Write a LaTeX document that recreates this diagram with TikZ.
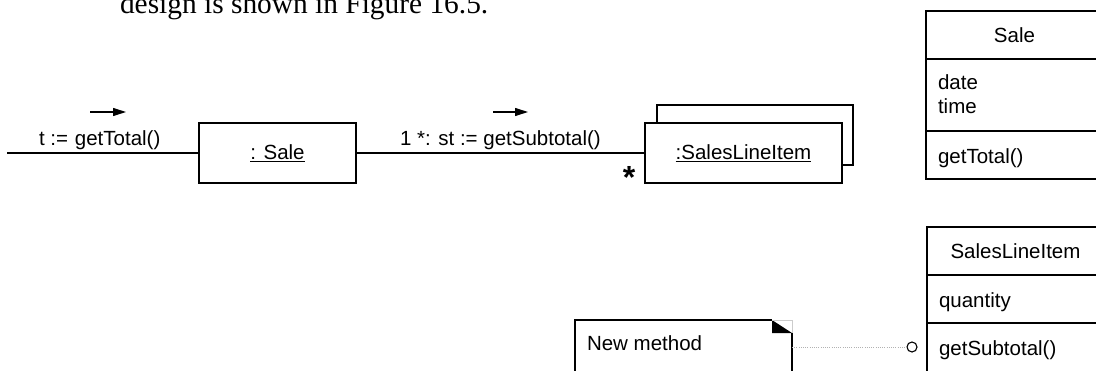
\documentclass[tikz,border=0pt]{standalone}
\usepackage{fontspec}
\setmainfont{Liberation Sans}
\newfontfamily\serifface{Liberation Serif}
\usetikzlibrary{arrows.meta}
\begin{document}
\begin{tikzpicture}[x=1pt,y=-1pt,
  every node/.style={font=\fontsize{20.5}{24.5}\selectfont, inner sep=0pt, outer sep=0pt},
  ln/.style={line width=1.1pt},
  objbox/.style={draw, ln, fill=white, minimum height=60pt},
  cbox/.style={draw, ln, anchor=north west, minimum width=177pt},
  txt/.style={anchor=base west},
  msgarrow/.style={ln, -{Triangle[length=13pt,width=8pt]}},
  notelink/.style={line width=1pt, gray!60, dash pattern=on 1pt off 1.2pt}
]
\useasboundingbox (0,0) rectangle (1096,370);
\clip (0,0) rectangle (1096,370);

% intro text
\node[txt, font=\serifface\fontsize{29.4}{32}\selectfont] (intro) at (120,13.5) {design is shown in Figure 16.5.};

% collaboration diagram
\node[objbox, minimum width=157pt] (saleobj) at (277.5,153) {\underline{: Sale}};
\node[objbox, minimum width=196pt] (sliback) at (755,135) {};
\node[objbox, minimum width=197pt] (sli) at (743.5,153) {\underline{:SalesLineItem}};

\coordinate (start) at (7,153);
\draw[ln] (start) -- (saleobj.west);
\draw[ln] (saleobj.east) -- (sli.west);

\node[txt] (m1) at (39,145) {t :=\,\,getTotal()};
\node[txt] (m2) at (400,145) {1 *: st := getSubtotal()};
\node[anchor=base, font=\bfseries\fontsize{32}{34}\selectfont] (star) at (629,188) {*};

\coordinate (a1s) at (90,112);
\coordinate (a1e) at (126,112);
\draw[msgarrow] (a1s) -- (a1e);
\coordinate (a2s) at (493,112);
\coordinate (a2e) at (528,112);
\draw[msgarrow] (a2s) -- (a2e);

% class Sale
\node[cbox, minimum height=48pt] (salehead) at (926,11) {Sale};
\node[cbox, minimum height=72pt] (saleattr) at (salehead.south west) {};
\node[cbox, minimum height=48pt] (saleops) at (saleattr.south west) {};
\node[txt] (sdate) at (938,89) {date};
\node[txt] (stime) at (938,113) {time};
\node[txt] (sgt) at (938,163) {getTotal()};

% class SalesLineItem
\node[cbox, minimum height=48pt] (slihead) at (927,227) {SalesLineItem};
\node[cbox, minimum height=48pt] (sliattr) at (slihead.south west) {};
\node[cbox, minimum height=70pt] (sliops) at (sliattr.south west) {};
\node[txt] (sq) at (939,307) {quantity};
\node[txt] (sgs) at (939,355) {getSubtotal()};

% note
\node[anchor=north west, minimum width=217pt, minimum height=70pt] (note) at (575,320) {};
\draw[ln] (note.south west) -- (note.north west) -- ++(197,0);
\fill ([xshift=-20pt]note.north east) -- ([xshift=-20pt,yshift=-13pt]note.north east) -- ([yshift=-13pt]note.north east) -- cycle;
\draw[line width=0.8pt, gray!40] ([xshift=-20pt]note.north east) -- (note.north east) -- ([yshift=-13pt]note.north east);
\draw[ln] ([yshift=-13pt]note.north east) -- (note.south east);
\node[txt] (nm) at (587,350) {New method};

\node[draw, circle, line width=1.1pt, minimum size=10pt, fill=white] (ball) at (912,347) {};
\draw[notelink] (note.east |- ball) -- (ball.west);
\end{tikzpicture}
\end{document}
